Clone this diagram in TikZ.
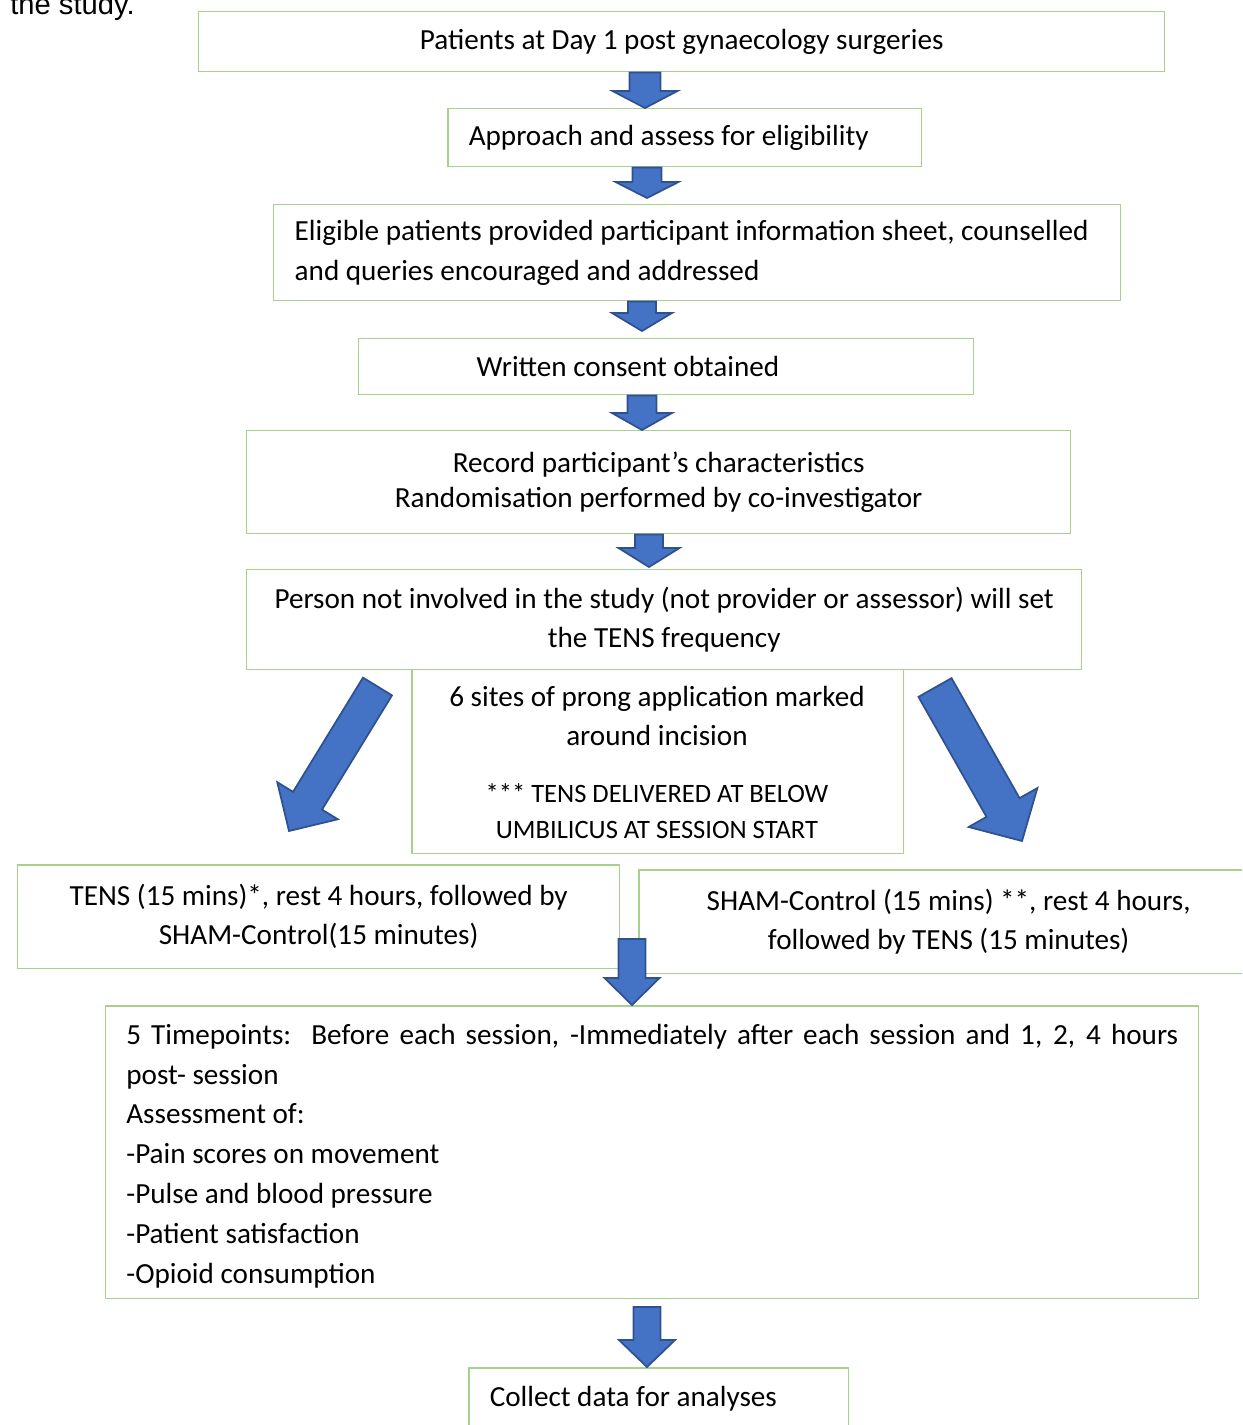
\documentclass[tikz,border=0pt]{standalone}
\usepackage{fontspec}
\setmainfont{Carlito}
\newfontfamily\arialfont{Liberation Sans}
\usetikzlibrary{calc}

\definecolor{boxgreen}{HTML}{A9D18E}
\definecolor{arrowfill}{HTML}{4472C4}
\definecolor{arrowline}{HTML}{2F528F}

\tikzset{
  flowbox/.style={draw=boxgreen, line width=0.85pt, rectangle, inner sep=0pt,
    anchor=north west, font=\fontsize{16.6}{22.7}\selectfont},
  leftbox/.style={flowbox, align=flush left, inner xsep=0.42cm},
  fatarrow/.style={fill=arrowfill, draw=arrowline, line width=1pt, line join=miter}
}

% block arrow: start, end, half shaft, half head, head length
\newcommand{\fatarrowdraw}[5]{%
  \coordinate (fa-s) at (#1);
  \coordinate (fa-e) at (#2);
  \coordinate (fa-h) at ($(fa-e)!#5!(fa-s)$);
  \draw[fatarrow] ($(fa-s)!#3!90:(fa-e)$) -- ($(fa-h)!#3!90:(fa-e)$)
    -- ($(fa-h)!#4!90:(fa-e)$) -- (fa-e) -- ($(fa-h)!#4!-90:(fa-e)$)
    -- ($(fa-h)!#3!-90:(fa-e)$) -- ($(fa-s)!#3!-90:(fa-e)$) -- cycle;
}

\begin{document}
\begin{tikzpicture}[x=0.02cm, y=-0.02cm]
    \useasboundingbox (0,0) rectangle (1242,1425);
    \clip (0,0) rectangle (1242,1425);

    % Caption fragment
    \node[anchor=base west, inner sep=0pt, font=\arialfont\fontsize{16.6}{20}\selectfont] (cap) at (10,15) {the study.};

    % Recruitment steps
    \node[flowbox, minimum width=19.32cm, minimum height=1.2cm] (pat) at (198,11)
        {Patients at Day 1 post gynaecology surgeries};
    \node[leftbox, text width=8.64cm, minimum height=1.16cm] (elig) at (447,108)
        {Approach and assess for eligibility};
    \node[leftbox, text width=16.1cm, minimum height=1.92cm] (info) at (273,204)
        {\mbox{Eligible patients provided participant information sheet, counselled}\\and queries encouraged and addressed};
    \node[leftbox, inner xsep=2.36cm, text width=7.58cm, minimum height=1.12cm] (cons) at (358,338)
        {Written consent obtained};
    \node[flowbox, minimum width=16.48cm, minimum height=2.06cm, align=center,
        font=\fontsize{16.6}{20.4}\selectfont] (rec) at (246,430)
        {Record participant’s characteristics\\Randomisation performed by co-investigator};
    \node[flowbox, minimum width=16.7cm, minimum height=2cm, align=center,
        font=\fontsize{16.6}{22.2}\selectfont] (pers) at (246,569)
        {Person not involved in the study (not provider or assessor) will set\\the TENS frequency};

    % Marking box
    \node[flowbox, minimum width=9.84cm, minimum height=3.68cm] (marks) at (411,669) {};
    \node[align=center, font=\fontsize{16.6}{22.2}\selectfont] (sites) at (657,715.5)
        {6 sites of prong application marked\\around incision};
    \node[align=center, font=\fontsize{15.1}{20.4}\selectfont] (below) at (657,811)
        {*** TENS DELIVERED AT BELOW\\UMBILICUS AT SESSION START};

    % Crossover arms
    \node[flowbox, minimum width=12.04cm, minimum height=2.08cm, align=center,
        font=\fontsize{16.6}{22.2}\selectfont] (tensfirst) at (17,864)
        {TENS (15 mins)*, rest 4 hours, followed by\\SHAM-Control(15 minutes)};
    \node[flowbox, minimum width=12.4cm, minimum height=2.08cm, align=center,
        font=\fontsize{16.6}{22.2}\selectfont] (shamfirst) at (638,869)
        {SHAM-Control (15 mins) **, rest 4 hours,\\followed by TENS (15 minutes)};

    % Assessment and data
    \node[flowbox, minimum width=21.86cm, minimum height=5.86cm] (time) at (105,1005) {};
    \node[anchor=west, align=flush left, inner sep=0pt, text width=21.04cm,
        font=\fontsize{16.6}{22.7}\selectfont] (timetxt) at (126,1156)
        {\makebox[21.04cm][s]{5 Timepoints:\ \ Before each session, -Immediately after each session and 1, 2, 4 hours}\\
         post- session\\Assessment of:\\-Pain scores on movement\\-Pulse and blood pressure\\
         -Patient satisfaction\\-Opioid consumption};
    \node[leftbox, text width=6.76cm, minimum height=1.24cm] (coll) at (468,1367)
        {Collect data for analyses};

    % Arrows
    \coordinate (a6) at (632,939);
    \coordinate (a7) at (647,1307);
    \coordinate (lt) at (377.5,686.5);
    \coordinate (ltip) at (289,831);
    \coordinate (rt) at (935,687.5);
    \coordinate (rtip) at (1022,841);
    \fatarrowdraw{pat.south -| 645,0}{elig.north -| 645,0}{0.31cm}{0.65cm}{0.34cm}
    \fatarrowdraw{elig.south -| 647,0}{647,198}{0.29cm}{0.63cm}{0.32cm}
    \fatarrowdraw{info.south -| 642,0}{642,331}{0.28cm}{0.6cm}{0.36cm}
    \fatarrowdraw{cons.south -| 642,0}{rec.north -| 642,0}{0.29cm}{0.6cm}{0.34cm}
    \fatarrowdraw{rec.south -| 649,0}{649,567}{0.28cm}{0.61cm}{0.38cm}
    \fatarrowdraw{lt}{ltip}{0.34cm}{0.71cm}{0.71cm}
    \fatarrowdraw{rt}{rtip}{0.38cm}{0.79cm}{0.77cm}
    \fatarrowdraw{a6}{time.north -| a6}{0.27cm}{0.55cm}{0.54cm}
    \fatarrowdraw{a7}{coll.north -| a7}{0.27cm}{0.56cm}{0.54cm}

\end{tikzpicture}
\end{document}
